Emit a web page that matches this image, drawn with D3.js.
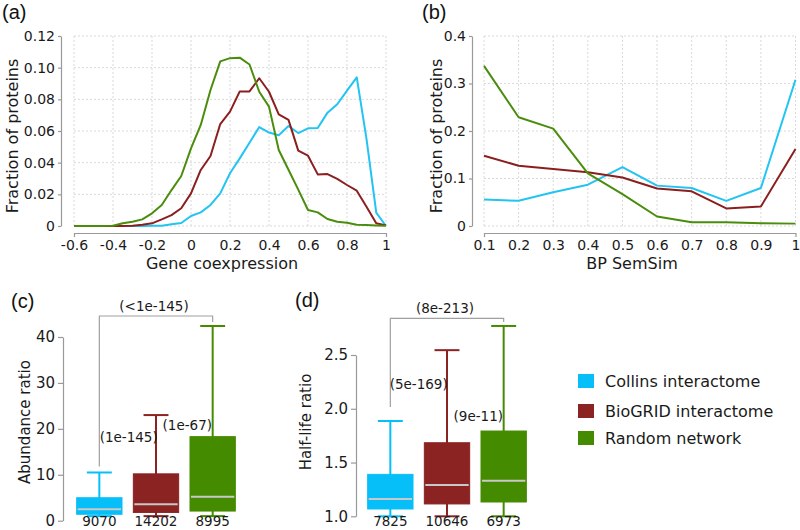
<!DOCTYPE html>
<html><head><meta charset="utf-8">
<script src="https://cdn.jsdelivr.net/npm/d3@7"></script>
<style>
body{margin:0;background:#fff}
svg{font-family:"DejaVu Sans",Verdana,sans-serif}
</style></head><body>
<svg id="chart" width="800" height="530"></svg>
<script>
// ---------- DATA ----------
const seriesNames = ["Collins interactome", "BioGRID interactome", "Random network"];

// (a) Gene coexpression distribution
const xA = [-0.6,-0.55,-0.5,-0.45,-0.4,-0.35,-0.3,-0.25,-0.2,-0.15,-0.1,-0.05,0,0.05,0.1,0.15,0.2,0.25,0.3,0.35,0.4,0.45,0.5,0.55,0.6,0.65,0.7,0.75,0.8,0.85,0.9,0.95,1.0];
const collinsA = [0,0,0,0,0,0,0,0,0.0001,0.0002,0.0011,0.0019,0.0063,0.0086,0.0133,0.0206,0.0333,0.0427,0.0526,0.0625,0.059,0.0573,0.0632,0.0587,0.0617,0.0619,0.0716,0.0769,0.0855,0.0939,0.055,0.0084,0];
const biogridA = [0,0,0,0,0,0,0.0002,0.0008,0.0017,0.0042,0.0069,0.0112,0.0206,0.0354,0.0442,0.0644,0.0722,0.085,0.085,0.0933,0.0848,0.0705,0.067,0.0476,0.0444,0.0326,0.0328,0.0297,0.0259,0.0223,0.0122,0.0017,0.0004];
const randomA = [0,0,0,0,0.0002,0.0017,0.0027,0.0042,0.008,0.0133,0.0227,0.0316,0.049,0.0638,0.0859,0.104,0.106,0.1063,0.102,0.0848,0.0754,0.048,0.0355,0.023,0.0101,0.0086,0.0044,0.0027,0.0021,0.0008,0.0006,0.0003,0.0001];
const xTicksA = [-0.6,-0.4,-0.2,0,0.2,0.4,0.6,0.8,1];
const xTickLabelsA = ["-0.6","-0.4","-0.2","0","0.2","0.4","0.6","0.8","1"];
const yTicksA = [0,0.02,0.04,0.06,0.08,0.10,0.12];
const yTickLabelsA = ["0","0.02","0.04","0.06","0.08","0.10","0.12"];

// (b) BP SemSim distribution
const xB = [0.1,0.2,0.3,0.4,0.5,0.6,0.7,0.8,0.9,1.0];
const collinsB = [0.056,0.053,0.071,0.087,0.124,0.085,0.080,0.053,0.080,0.308];
const biogridB = [0.148,0.127,0.120,0.113,0.102,0.079,0.073,0.037,0.041,0.162];
const randomB = [0.337,0.229,0.205,0.111,0.067,0.020,0.008,0.008,0.006,0.005];
const xTicksB = [0.1,0.2,0.3,0.4,0.5,0.6,0.7,0.8,0.9,1];
const xTickLabelsB = ["0.1","0.2","0.3","0.4","0.5","0.6","0.7","0.8","0.9","1"];
const yTicksB = [0,0.1,0.2,0.3,0.4];
const yTickLabelsB = ["0","0.1","0.2","0.3","0.4"];

// (c) Abundance ratio box plots
const abundLow = [1.0,1.0,1.0];
const abundQ1 = [1.4,1.8,2.1];
const abundMed = [2.5,3.6,5.2];
const abundQ3 = [5.0,10.2,18.3];
const abundHigh = [10.5,23.0,42.4];
const abundCounts = ["9070","14202","8995"];
const yTicksC = [0,10,20,30,40];
const yTickLabelsC = ["0","10","20","30","40"];
const abundBracket = "(<1e-145)";
const abundPairLabels = ["(1e-145)","(1e-67)"];

// (d) Half-life ratio box plots
const halfLow = [1.0,1.0,1.0];
const halfQ1 = [1.068,1.115,1.133];
const halfMed = [1.16,1.29,1.331];
const halfQ3 = [1.39,1.684,1.793];
const halfHigh = [1.886,2.545,2.77];
const halfCounts = ["7825","10646","6973"];
const yTicksD = [1.0,1.5,2.0,2.5];
const yTickLabelsD = ["1.0","1.5","2.0","2.5"];
const halfBracket = "(8e-213)";
const halfPairLabels = ["(5e-169)","(9e-11)"];

// ---------- STYLE ----------
const lineColors = ["#22c4f2", "#8b1f1f", "#4a8d0d"];
const boxColors = ["#06bff8", "#8b2323", "#458b00"];
const axisColor = "#999";
const gridColor = "#d9d9d9";

const svg = d3.select("#chart");

function styleAxis(g, fontSize) {
  g.select(".domain").attr("stroke", axisColor).attr("stroke-width", 1.2);
  g.selectAll(".tick line").attr("stroke", axisColor).attr("stroke-width", 1.2);
  g.selectAll(".tick text").attr("fill", "#1a1a1a").style("font-size", fontSize + "px")
    .style("font-family", '"DejaVu Sans",Verdana,sans-serif');
}

function linePanel(cfg) {
  const x = d3.scaleLinear().domain(cfg.xDomain).range(cfg.xRange);
  const y = d3.scaleLinear().domain(cfg.yDomain).range(cfg.yRange);
  const g = svg.append("g");
  // grid
  g.append("g").selectAll("line").data(cfg.yTicks).join("line")
    .attr("x1", cfg.xRange[0]).attr("x2", cfg.xRange[1])
    .attr("y1", d => y(d)).attr("y2", d => y(d))
    .attr("stroke", gridColor).attr("stroke-dasharray", "2,2");
  g.append("g").selectAll("line").data(cfg.xTicks).join("line")
    .attr("x1", d => x(d)).attr("x2", d => x(d))
    .attr("y1", cfg.yRange[0]).attr("y2", cfg.yRange[1])
    .attr("stroke", gridColor).attr("stroke-dasharray", "2,2");
  // axes
  const ax = g.append("g").attr("transform", `translate(0,${cfg.xAxisY})`)
    .call(d3.axisBottom(x).tickValues(cfg.xTicks)
      .tickFormat((d, i) => cfg.xTickLabels[i]).tickSizeInner(0).tickSizeOuter(4).tickPadding(7));
  styleAxis(ax, 14);
  const ay = g.append("g").attr("transform", `translate(${cfg.yAxisX},0)`)
    .call(d3.axisLeft(y).tickValues(cfg.yTicks)
      .tickFormat((d, i) => cfg.yTickLabels[i]).tickSizeInner(3).tickSizeOuter(0).tickPadding(3));
  styleAxis(ay, 14);
  // lines
  const line = d3.line().x((d, j) => x(cfg.xs[j])).y(d => y(d));
  cfg.series.forEach((vals, i) => {
    g.append("path").datum(vals).attr("d", line)
      .attr("fill", "none").attr("stroke", lineColors[i]).attr("stroke-width", 2)
      .attr("stroke-linejoin", "round");
  });
  // titles
  g.append("text").attr("x", cfg.xTitlePos[0]).attr("y", cfg.xTitlePos[1])
    .attr("text-anchor", "middle").style("font-size", "16px").attr("fill", "#1a1a1a").text(cfg.xTitle);
  g.append("text").attr("transform", `translate(${cfg.yTitlePos[0]},${cfg.yTitlePos[1]}) rotate(-90)`)
    .attr("text-anchor", "middle").style("font-size", "16px").attr("fill", "#1a1a1a").text(cfg.yTitle);
  g.append("text").attr("x", cfg.labelPos[0]).attr("y", cfg.labelPos[1])
    .style("font-family", '"Liberation Sans",Arial,sans-serif').style("font-size", "20px")
    .attr("fill", "#111").text(cfg.label);
}

linePanel({
  xs: xA, series: [collinsA, biogridA, randomA],
  xDomain: [-0.6, 1], xRange: [74, 386], yDomain: [0, 0.12], yRange: [226, 36],
  xTicks: xTicksA, xTickLabels: xTickLabelsA, yTicks: yTicksA, yTickLabels: yTickLabelsA,
  xAxisY: 233, yAxisX: 61,
  xTitle: "Gene coexpression", xTitlePos: [222, 269],
  yTitle: "Fraction of proteins", yTitlePos: [18, 136],
  label: "(a)", labelPos: [2, 19]
});
linePanel({
  xs: xB, series: [collinsB, biogridB, randomB],
  xDomain: [0.1, 1], xRange: [484, 795.5], yDomain: [0, 0.4], yRange: [226, 36],
  xTicks: xTicksB, xTickLabels: xTickLabelsB, yTicks: yTicksB, yTickLabels: yTickLabelsB,
  xAxisY: 233, yAxisX: 472,
  xTitle: "BP SemSim", xTitlePos: [632, 269],
  yTitle: "Fraction of proteins", yTitlePos: [442, 136],
  label: "(b)", labelPos: [422, 19]
});

function boxPanel(cfg) {
  const x = d3.scaleBand().domain(seriesNames).range(cfg.xRange).paddingInner(0.2).paddingOuter(0.1);
  const y = d3.scaleLinear().domain(cfg.yDomain).range(cfg.yRange);
  const g = svg.append("g");
  const bw = x.bandwidth();
  const cx = i => x(seriesNames[i]) + bw / 2;
  const ay = g.append("g").attr("transform", `translate(${cfg.yAxisX},0)`)
    .call(d3.axisLeft(y).tickValues(cfg.yTicks)
      .tickFormat((d, i) => cfg.yTickLabels[i]).tickSizeInner(5).tickSizeOuter(0).tickPadding(3));
  styleAxis(ay, 15);
  seriesNames.forEach((s, i) => {
    const c = boxColors[i];
    const cap = bw * 0.55;
    // whisker
    g.append("line").attr("x1", cx(i)).attr("x2", cx(i))
      .attr("y1", y(cfg.low[i])).attr("y2", y(cfg.high[i])).attr("stroke", c).attr("stroke-width", 2);
    [cfg.low[i], cfg.high[i]].forEach(v => {
      g.append("line").attr("x1", cx(i) - cap / 2).attr("x2", cx(i) + cap / 2)
        .attr("y1", y(v)).attr("y2", y(v)).attr("stroke", c).attr("stroke-width", 2);
    });
    g.append("rect").attr("x", x(s)).attr("width", bw)
      .attr("y", y(cfg.q3[i])).attr("height", y(cfg.q1[i]) - y(cfg.q3[i]))
      .attr("fill", c).attr("stroke", c).attr("stroke-width", 1);
    g.append("line").attr("x1", x(s) + 1).attr("x2", x(s) + bw - 1)
      .attr("y1", y(cfg.med[i])).attr("y2", y(cfg.med[i])).attr("stroke", "#c8c8c8").attr("stroke-width", 2);
    g.append("text").attr("x", cx(i)).attr("y", 526).attr("text-anchor", "middle")
      .style("font-size", "13.5px").attr("fill", "#1a1a1a").text(cfg.counts[i]);
  });
  // bracket between first and last group
  const top = y(cfg.high[2]) - cfg.bracketGap;
  g.append("path")
    .attr("d", `M${cx(0)},${y(cfg.high[0]) - cfg.leftGap}V${top}H${cx(2)}V${y(cfg.high[2]) - 4}`)
    .attr("fill", "none").attr("stroke", "#a0a0a0").attr("stroke-width", 1.2);
  g.append("text").attr("x", (cx(0) + cx(2)) / 2 - 2).attr("y", top - 5).attr("text-anchor", "middle")
    .style("font-size", "13.5px").attr("fill", "#1a1a1a").text(cfg.bracket);
  cfg.pairLabels.forEach((t, k) => {
    g.append("text").attr("x", (cx(k) + cx(k + 1)) / 2 + cfg.pairDx[k]).attr("y", cfg.pairY[k])
      .attr("text-anchor", "middle").style("font-size", "13.5px").attr("fill", "#1a1a1a").text(t);
  });
  g.append("text").attr("transform", `translate(${cfg.yTitlePos[0]},${cfg.yTitlePos[1]}) rotate(-90)`)
    .attr("text-anchor", "middle").style("font-size", "15px").attr("fill", "#1a1a1a").text(cfg.yTitle);
  g.append("text").attr("x", cfg.labelPos[0]).attr("y", cfg.labelPos[1])
    .style("font-family", '"Liberation Sans",Arial,sans-serif').style("font-size", "20px")
    .attr("fill", "#111").text(cfg.label);
}

boxPanel({
  low: abundLow, q1: abundQ1, med: abundMed, q3: abundQ3, high: abundHigh, counts: abundCounts,
  xRange: [71, 241], yDomain: [0, 40], yRange: [520.7, 337],
  yTicks: yTicksC, yTickLabels: yTickLabelsC, yAxisX: 63,
  bracket: abundBracket, bracketGap: 10, leftGap: 6,
  pairLabels: abundPairLabels, pairDx: [1, 3], pairY: [442, 430],
  yTitle: "Abundance ratio", yTitlePos: [30, 422],
  label: "(c)", labelPos: [11, 308]
});
boxPanel({
  low: halfLow, q1: halfQ1, med: halfMed, q3: halfQ3, high: halfHigh, counts: halfCounts,
  xRange: [362, 532], yDomain: [1.0, 2.5], yRange: [516.3, 355],
  yTicks: yTicksD, yTickLabels: yTickLabelsD, yAxisX: 356,
  bracket: halfBracket, bracketGap: 7.5, leftGap: 14,
  pairLabels: halfPairLabels, pairDx: [0, 3], pairY: [389, 420.5],
  yTitle: "Half-life ratio", yTitlePos: [311, 422],
  label: "(d)", labelPos: [295, 307]
});

// legend
const leg = svg.append("g");
const legY = [374, 404, 431];
seriesNames.forEach((s, i) => {
  leg.append("rect").attr("x", 578).attr("y", legY[i]).attr("width", 16).attr("height", 14).attr("fill", boxColors[i]);
  leg.append("text").attr("x", 605).attr("y", legY[i] + 12.5).style("font-size", "16px")
    .attr("fill", "#1a1a1a").text(s);
});
</script>
</body></html>
